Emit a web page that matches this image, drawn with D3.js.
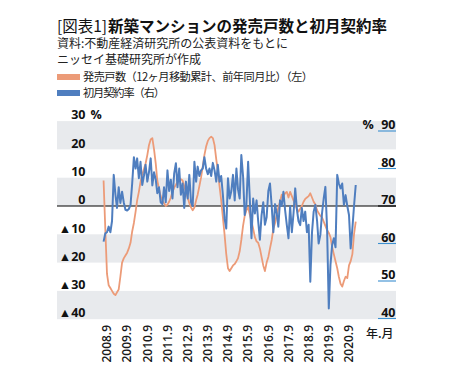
<!DOCTYPE html>
<html><head><meta charset="utf-8">
<script src="https://cdn.jsdelivr.net/npm/d3@7"></script>
<style>body{margin:0;background:#fff} svg{display:block}</style>
</head><body><svg id="c" width="453" height="382"></svg>
<script>
// first data month: July 2008 (monthly series)
const startYear = 2008, startMonth = 7;
// 発売戸数（12ヶ月移動累計、前年同月比）（左）, %
const supplyYoY = [
 9,-8,-24,-28,-29,-30,-31,-31.5,-30.5,-29.5,
 -25,-20,-18.5,-17.5,-16.5,-15,-13,-9,-6,-2,
 2,5,8.5,11,13,15,18,21.5,23.5,24,
 20,15,9,6,3.5,2,1,0,0.5,1.5,
 3,5,6.5,7.5,8.5,9.5,9.5,9,7,5,
 3,1,-0.5,-1.5,-0.5,2,4,7,10,14,
 18,21,23,24,24.5,24,21.5,16.5,12.5,7,
 2,-4,-10,-17,-22,-23,-22,-21,-20.5,-19.5,
 -18.5,-16,-12,-7,-3.5,-1.5,-0.5,-3,-5.5,-8,
 -11,-12.5,-13,-15,-18,-21,-23,-20,-18,-15,
 -12,-8,-6,-3,-0.5,1.5,4,3.5,4.5,5,
 3,5,3.5,2,0.5,-1,-2,-1,0,1.5,
 2.5,3,3.5,4.5,3,1.5,0.5,-1.5,-2.5,-3.5,
 -4,-5.5,-7,-8.5,-9.5,-11,-14.5,-17,-19.5,-22,
 -25,-27.5,-28.5,-26.5,-25,-25.5,-21,-19.5,-17,-10,
 -5.5
];
// 初月契約率（右）, %
const contractRate = [
 60.5,62.7,63,64.5,63,66,78.3,73,69.5,75,
 70.8,73.8,71,69,68.8,69.2,70.3,76,83,80,
 82.7,77.4,81.8,75.6,78,81,76.5,79,82.7,75.5,
 79,77,73.4,75,71,70.5,75,71,79.5,74,
 77,72,78.7,81.4,75,80,73,76,69.5,76.5,
 72,78.3,71,70,81.8,76.5,80.5,78,79.5,80,
 83,80,78.5,80,78,81.5,79.5,76.5,81,76.5,
 78,73,66.7,64,77.4,72,74,78.3,71.5,80,
 74.5,72,83.6,78,67.6,70.5,81.8,72,61.4,72,
 68,71.5,66,61,67.5,71,65,67,74,76,
 70,63,70.5,68,64.5,71.5,70,73.8,69,65,
 61.4,70,63,68,74.7,69,66,64.9,69.5,66,
 68.5,63,65,49.8,63,68.5,70.3,66,60,62.3,
 68,72,75.1,64,42.7,54.3,59.6,61.4,59,78.3,
 76,74.7,76,70.3,72.9,70,67.6,58.7,64,70,
 75.6
];
const xTickLabels = ["2008.9","2009.9","2010.9","2011.9","2012.9","2013.9","2014.9","2015.9","2016.9","2017.9","2018.9","2019.9","2020.9"];
const leftTicks = [30,20,10,0,-10,-20,-30,-40];
const leftTickLabels = ["30","20","10","0","▲10","▲20","▲30","▲40"];
const rightTicks = [90,80,70,60,50,40];
const rightTickLabels = ["90","80","70","60","50","40"];
const titleLabel = "[図表1]";
const titleMain = "新築マンションの発売戸数と初月契約率";
const sourceLines = ["資料:不動産経済研究所の公表資料をもとに","ニッセイ基礎研究所が作成"];
const legendLabels = ["発売戸数（12ヶ月移動累計、前年同月比）（左）","初月契約率（右）"];
const unitLabel = "年.月";

const ORANGE = "#ec9b78", BLUE = "#4f7ebf", BAND = "#e8eaed";
const JP = "'Noto Sans CJK JP','Noto Sans',sans-serif";
const NUM = "'Open Sans','Noto Sans',sans-serif";

const svg = d3.select("#c");
const plotL = 57, plotR = 396;

const parseTick = s => { const [y,m] = s.split(".").map(Number); return new Date(y, m-1, 1); };
const x = d3.scaleTime()
  .domain([parseTick(xTickLabels[0]), parseTick(xTickLabels[xTickLabels.length-1])])
  .range([107, 349]);
const yL = d3.scaleLinear().domain([-40, 30]).range([319.2, 121.1]);
const yR = d3.scaleLinear().domain([40, 90]).range([318.5, 131]);

const dates = supplyYoY.map((_, i) => new Date(startYear, startMonth - 1 + i, 1));

// bands
const bandPairs = [];
for (let i = 0; i < leftTicks.length - 1; i += 2) bandPairs.push([leftTicks[i], leftTicks[i+1]]);
svg.append("g").selectAll("rect").data(bandPairs).join("rect")
  .attr("x", plotL).attr("width", plotR - plotL)
  .attr("y", d => yL(d[0])).attr("height", d => yL(d[1]) - yL(d[0]))
  .attr("fill", BAND);

// zero line
svg.append("line").attr("x1", plotL).attr("x2", plotR)
  .attr("y1", yL(0)).attr("y2", yL(0)).attr("stroke", "#000").attr("stroke-width", 1.2);

// lines
const lineL = d3.line().x((d,i) => x(dates[i])).y(d => yL(d));
const lineR = d3.line().x((d,i) => x(dates[i])).y(d => yR(d));
svg.append("path").datum(supplyYoY).attr("d", lineL)
  .attr("fill", "none").attr("stroke", ORANGE).attr("stroke-width", 1.8).attr("stroke-linejoin", "round");
svg.append("path").datum(contractRate).attr("d", lineR)
  .attr("fill", "none").attr("stroke", BLUE).attr("stroke-width", 2).attr("stroke-linejoin", "round");

// left axis labels
svg.append("g").selectAll("text").data(leftTicks).join("text")
  .attr("x", 85.5).attr("y", d => yL(d) - 1.8)
  .attr("text-anchor", "end").attr("font-family", NUM).attr("font-weight", 700)
  .attr("font-size", 12.5).attr("fill", "#111")
  .text((d,i) => leftTickLabels[i]);
svg.append("text").attr("x", 90.5).attr("y", yL(leftTicks[0]) - 1.8)
  .attr("font-family", NUM).attr("font-weight", 700).attr("font-size", 12.5).attr("fill", "#111").text("%");

// right axis labels
const rg = svg.append("g");
rg.selectAll("line").data(rightTicks).join("line")
  .attr("x1", 378).attr("x2", plotR).attr("y1", d => yR(d)).attr("y2", d => yR(d))
  .attr("stroke", d => d === 70 ? "#000" : "#3b8fd0").attr("stroke-width", 1.1);
rg.selectAll("text").data(rightTicks).join("text")
  .attr("x", 395.5).attr("y", d => yR(d) - 2)
  .attr("text-anchor", "end").attr("font-family", NUM).attr("font-weight", 700)
  .attr("font-size", 12.5).attr("fill", "#111")
  .text((d,i) => rightTickLabels[i]);
svg.append("text").attr("x", 362.5).attr("y", yR(rightTicks[0]) - 2)
  .attr("font-family", NUM).attr("font-weight", 700).attr("font-size", 12.5).attr("fill", "#111").text("%");

// x tick labels
svg.append("g").selectAll("text").data(xTickLabels).join("text")
  .attr("transform", d => `translate(${x(parseTick(d))},325) rotate(-90)`)
  .attr("text-anchor", "end").attr("dy", "0.36em")
  .attr("font-family", NUM).attr("font-weight", 600).attr("font-size", 12).attr("fill", "#1a1a1a")
  .text(d => d);
svg.append("text").attr("x", 366).attr("y", 338)
  .attr("font-family", JP).attr("font-weight", 500).attr("font-size", 12).attr("fill", "#1a1a1a").text(unitLabel);

// title
const t = svg.append("text").attr("x", 57).attr("y", 31.5).attr("font-family", JP).attr("font-size", 15.5).attr("fill", "#111");
t.append("tspan").attr("font-weight", 400).text(titleLabel);
t.append("tspan").attr("font-weight", 700).attr("dx", 1).text(titleMain);

// source
svg.append("g").selectAll("text").data(sourceLines).join("text")
  .attr("x", 57).attr("y", (d,i) => 48.4 + i*16)
  .attr("font-family", JP).attr("font-size", 12).attr("fill", "#222").text(d => d);

// legend
const legColors = [ORANGE, BLUE];
const legWidths = [230, 82];
const lg = svg.append("g");
lg.selectAll("rect").data(legendLabels).join("rect")
  .attr("x", 57).attr("width", 23).attr("y", (d,i) => 74 + i*16).attr("height", 6)
  .attr("fill", (d,i) => legColors[i]);
lg.selectAll("text").data(legendLabels).join("text")
  .attr("x", 83).attr("y", (d,i) => 81 + i*16)
  .attr("textLength", (d,i) => legWidths[i]).attr("lengthAdjust", "spacing")
  .attr("font-family", JP).attr("font-size", 11.2).attr("fill", "#1a1a1a").text(d => d);
</script>
</body></html>
